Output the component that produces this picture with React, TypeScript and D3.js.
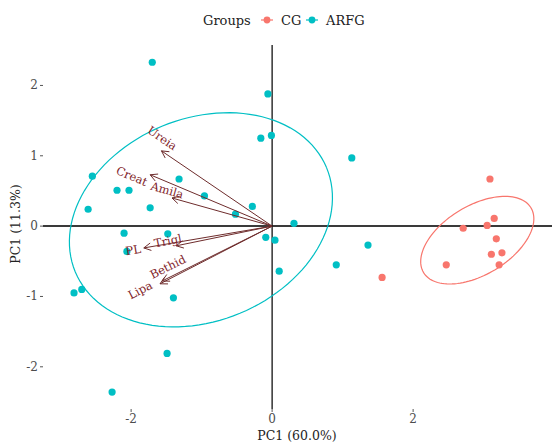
import React from "react";
import * as d3 from "d3";

// ---- data ----
const arfgX = [-1.70, -0.06, -0.16, -0.01, 1.13, -2.55, -2.20, -2.03, -1.32, -2.61, -1.73, -0.96, -0.28, -0.52, 0.31, -2.10, -1.48, -0.09, 0.04, -2.06, 0.10, 1.36, 0.91, -2.81, -2.70, -1.40, -1.49, -2.27];
const arfgY = [2.33, 1.88, 1.25, 1.29, 0.97, 0.71, 0.51, 0.51, 0.67, 0.24, 0.26, 0.43, 0.28, 0.17, 0.04, -0.10, -0.11, -0.16, -0.20, -0.36, -0.64, -0.27, -0.55, -0.95, -0.90, -1.02, -1.81, -2.36];
const cgX = [3.09, 3.15, 2.71, 3.05, 3.18, 3.11, 3.26, 3.22, 2.47, 1.56];
const cgY = [0.67, 0.11, -0.03, 0.01, -0.18, -0.40, -0.38, -0.55, -0.55, -0.73];

const varNames = ["Ureia", "Creat", "Amila", "Trigl", "PL", "Bethid", "Lipa"];
const varX = [-1.57, -1.73, -1.42, -1.36, -1.82, -1.56, -1.59];
const varY = [1.07, 0.73, 0.40, -0.28, -0.31, -0.78, -0.82];
const labelX = [-1.56, -1.99, -1.49, -1.48, -1.97, -1.48, -1.87];
const labelY = [1.25, 0.71, 0.51, -0.21, -0.34, -0.58, -0.91];

// ellipses: center x, center y, semi-axis a, semi-axis b, angle (deg)
const ellipseGroups = ["ARFG", "CG"];
const ellipseCx = [-1.01, 2.91];
const ellipseCy = [0.09, -0.20];
const ellipseA = [1.93, 0.89];
const ellipseB = [1.44, 0.49];
const ellipseAngle = [22.6, 31.2];

const xTicks = [-2, 0, 2];
const yTicks = [-2, -1, 0, 1, 2];

const COLORS: Record<string, string> = { CG: "#F8766D", ARFG: "#00BFC4" };
const FONT = "'DejaVu Serif', serif";

export default function App() {
  const x = d3.scaleLinear().domain([-3.25, 3.97]).range([43, 552]);
  const y = d3.scaleLinear().domain([-2.6, 2.575]).range([409, 45]);

  const ellipsePath = (i: number) => {
    const th = (ellipseAngle[i] * Math.PI) / 180;
    const pts = d3.range(0, 361, 3).map((deg) => {
      const t = (deg * Math.PI) / 180;
      const ex = ellipseA[i] * Math.cos(t);
      const ey = ellipseB[i] * Math.sin(t);
      return [
        ellipseCx[i] + ex * Math.cos(th) - ey * Math.sin(th),
        ellipseCy[i] + ex * Math.sin(th) + ey * Math.cos(th),
      ] as [number, number];
    });
    return d3.line<[number, number]>().x((d) => x(d[0])).y((d) => y(d[1]))(pts) || "";
  };

  const arrowPath = (i: number) => {
    const ox = x(0), oy = y(0);
    const tx = x(varX[i]), ty = y(varY[i]);
    const dx = tx - ox, dy = ty - oy;
    const len = Math.hypot(dx, dy);
    const ux = dx / len, uy = dy / len;
    const L = 8, a = (28 * Math.PI) / 180;
    const h1x = tx - L * (ux * Math.cos(a) - uy * Math.sin(a));
    const h1y = ty - L * (ux * Math.sin(a) + uy * Math.cos(a));
    const h2x = tx - L * (ux * Math.cos(-a) - uy * Math.sin(-a));
    const h2y = ty - L * (ux * Math.sin(-a) + uy * Math.cos(-a));
    return `M${ox},${oy}L${tx},${ty}M${h1x},${h1y}L${tx},${ty}L${h2x},${h2y}`;
  };

  const labelAngle = (i: number) => {
    const dx = x(varX[i]) - x(0);
    const dy = y(varY[i]) - y(0);
    let ang = (Math.atan2(dy, dx) * 180) / Math.PI;
    if (ang > 90) ang -= 180;
    if (ang < -90) ang += 180;
    return ang;
  };

  return (
    <svg width={552} height={442} style={{ position: "absolute", left: 0, top: 0, background: "#fff" }} fontFamily={FONT}>
      {/* reference lines */}
      <line x1={43} x2={552} y1={y(0)} y2={y(0)} stroke="#3a3a3a" strokeWidth={2} />
      <line x1={x(0)} x2={x(0)} y1={45} y2={409} stroke="#111" strokeWidth={1.3} />

      {/* axes ticks */}
      {yTicks.map((t) => (
        <g key={"y" + t}>
          <line x1={40} x2={43} y1={y(t)} y2={y(t)} stroke="#555" strokeWidth={1} />
          <text x={38} y={y(t)} textAnchor="end" dominantBaseline="central" fontSize={12} fill="#4d4d4d">
            {t < 0 ? "-" + Math.abs(t) : String(t)}
          </text>
        </g>
      ))}
      {xTicks.map((t) => (
        <g key={"x" + t}>
          <line x1={x(t)} x2={x(t)} y1={409} y2={412} stroke="#555" strokeWidth={1} />
          <text x={x(t)} y={419} textAnchor="middle" dominantBaseline="central" fontSize={12} fill="#4d4d4d">
            {t < 0 ? "-" + Math.abs(t) : String(t)}
          </text>
        </g>
      ))}
      <text x={297} y={435} textAnchor="middle" dominantBaseline="central" fontSize={12.5} fill="#222">
        PC1 (60.0%)
      </text>
      <text transform={`translate(15,224) rotate(-90)`} textAnchor="middle" dominantBaseline="central" fontSize={12.5} fill="#222">
        PC1 (11.3%)
      </text>

      {/* ellipses */}
      {ellipseGroups.map((g, i) => (
        <path key={g} d={ellipsePath(i)} fill="none" stroke={COLORS[g]} strokeWidth={1.2} />
      ))}

      {/* points */}
      {arfgX.map((v, i) => (
        <circle key={"a" + i} cx={x(v)} cy={y(arfgY[i])} r={3.6} fill={COLORS.ARFG} />
      ))}
      {cgX.map((v, i) => (
        <circle key={"c" + i} cx={x(v)} cy={y(cgY[i])} r={3.6} fill={COLORS.CG} />
      ))}

      {/* arrows */}
      {varNames.map((n, i) => (
        <path key={"ar" + n} d={arrowPath(i)} fill="none" stroke="#6e2c2c" strokeWidth={1} />
      ))}
      {varNames.map((n, i) => (
        <text
          key={"lb" + n}
          transform={`translate(${x(labelX[i])},${y(labelY[i])}) rotate(${labelAngle(i)})`}
          textAnchor="middle"
          dominantBaseline="central"
          fontSize={11.5}
          fill="#7f1d2a"
        >
          {n}
        </text>
      ))}

      {/* legend */}
      <text x={203} y={20} dominantBaseline="central" fontSize={13} fill="#222">Groups</text>
      <line x1={261} x2={273} y1={20} y2={20} stroke={COLORS.CG} strokeWidth={1.2} />
      <circle cx={267} cy={20} r={3.4} fill={COLORS.CG} />
      <text x={281} y={20} dominantBaseline="central" fontSize={13} fill="#222">CG</text>
      <line x1={306} x2={318} y1={20} y2={20} stroke={COLORS.ARFG} strokeWidth={1.2} />
      <circle cx={312} cy={20} r={3.4} fill={COLORS.ARFG} />
      <text x={326} y={20} dominantBaseline="central" fontSize={13} fill="#222">ARFG</text>
    </svg>
  );
}
